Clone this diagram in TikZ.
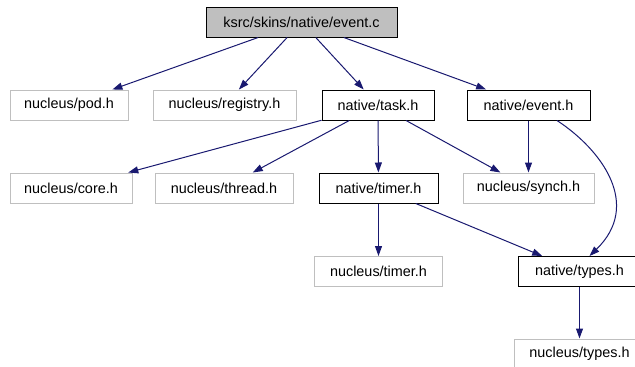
\documentclass[tikz,border=0pt]{standalone}
\usepackage{fontspec}
\setmainfont{Liberation Sans}
\usepackage{tikz}
\usetikzlibrary{arrows.meta,positioning}
\definecolor{edgeblue}{HTML}{191970}
\definecolor{boxgray}{HTML}{BFBFBF}
\tikzset{%
	srcfile/.style = {draw=black, fill=boxgray, rectangle, line width=1pt, minimum height=30pt}, % this file
	docfile/.style = {draw=black, fill=white, rectangle, line width=1pt, minimum height=30pt}, % documented
	extfile/.style = {draw=boxgray, fill=white, rectangle, line width=1pt, minimum height=30pt}, % not documented
	incl/.style    = {->, draw=edgeblue, line width=1pt},
}

\begin{document}
\begin{tikzpicture}[x=1pt,y=-1pt,auto,font=\fontsize{14.4}{17}\selectfont,>={Triangle[length=10pt,width=7pt]}]
	\useasboundingbox (0,0) rectangle (635,367);
	\node [srcfile,minimum width=191pt] (eventc) at (301.5,22) {ksrc/skins/native/event.c};
	
	\node [extfile,minimum width=118pt] (podh) at (69,105) {nucleus/pod.h};
	\node [extfile,minimum width=143pt] (registryh) [right of=podh,node distance=155.5pt] {nucleus/registry.h};
	\node [docfile,minimum width=112pt] (taskh) [right of=registryh,node distance=153.5pt] {native/task.h};
	\node [docfile,minimum width=123pt] (eventh) [right of=taskh,node distance=150.5pt] {native/event.h};
	
	\node [extfile,minimum width=122pt] (coreh) at (71,188) {nucleus/core.h};
	\node [extfile,minimum width=138pt] (threadh) [right of=coreh,node distance=153pt] {nucleus/thread.h};
	\node [docfile,minimum width=119pt] (timerh) [right of=threadh,node distance=154.5pt] {native/timer.h};
	\node [extfile,minimum width=131pt] (synchh) [right of=timerh,node distance=150pt] {nucleus/synch.h};
	
	\node [extfile,minimum width=128pt] (ntimerh) [below of=timerh,node distance=83.5pt] {nucleus/timer.h};
	\node [docfile,minimum width=122pt] (typesh) [right of=ntimerh,node distance=201pt] {native/types.h};
	\node [extfile,minimum width=130pt] (ntypesh) [below of=typesh,node distance=82.5pt] {nucleus/types.h};
	
	\draw[incl] (eventc) -- (podh);
	\draw[incl] (eventc) -- (registryh);
	\draw[incl] (eventc) -- (taskh);
	\draw[incl] (eventc) -- (eventh);
	\draw[incl] (taskh) -- (coreh);
	\draw[incl] (taskh) -- (threadh);
	\draw[incl] (taskh) -- (timerh);
	\draw[incl] (taskh) -- (synchh);
	\draw[incl] (eventh) -- (synchh);
	\draw[incl] ([xshift=28.5pt]eventh.south) .. controls (602,150) and (642,205) .. ([xshift=10pt]typesh.north);
	\draw[incl] (timerh) -- (ntimerh);
	\draw[incl] (timerh) -- (typesh);
	\draw[incl] (typesh) -- (ntypesh);
\end{tikzpicture}
\end{document}
